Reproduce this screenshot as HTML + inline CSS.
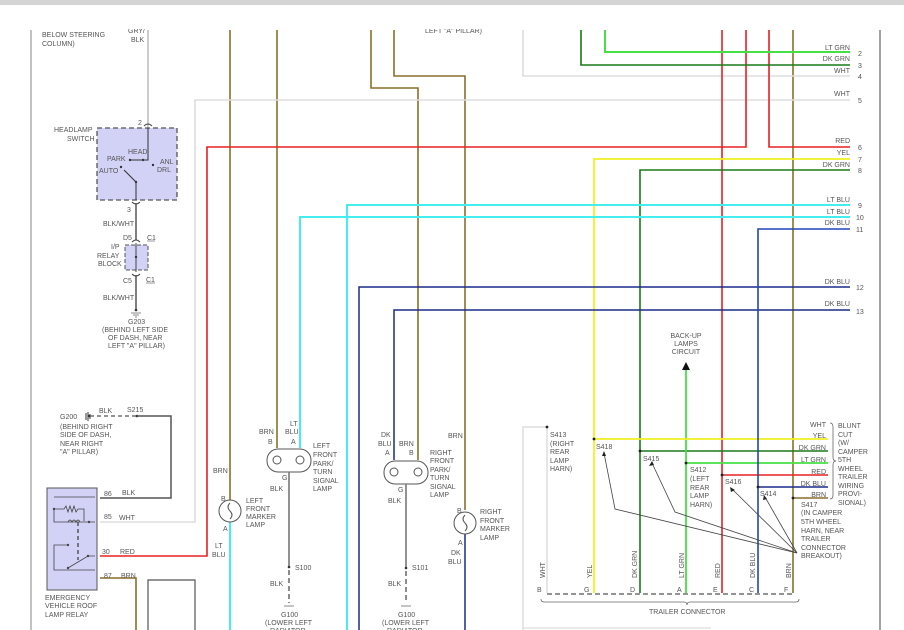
<!DOCTYPE html>
<html><head><meta charset="utf-8"><style>
html,body{margin:0;padding:0;background:#fff;}
svg{display:block;}
text{font-family:"Liberation Sans",sans-serif;font-size:7px;fill:#555;}
</style></head><body>
<svg width="904" height="630" viewBox="0 0 904 630" xmlns="http://www.w3.org/2000/svg">
<!-- frame lines -->
<line x1="31" y1="30" x2="31" y2="630" stroke="#999" stroke-width="1.2"/>
<line x1="880" y1="30" x2="880" y2="630" stroke="#666" stroke-width="1.2"/>
<text x="42" y="37">BELOW STEERING</text><text x="42" y="46">COLUMN)</text>
<text x="128" y="33">GRY/</text><text x="131" y="42">BLK</text>
<text x="425" y="33">LEFT "A" PILLAR)</text>
<rect x="100" y="5" width="780" height="24" fill="#fff"/>
<rect x="0" y="0" width="904" height="5" fill="#d4d4d4"/>

<!-- GRY/BLK to headlamp switch -->
<line x1="148" y1="30" x2="148" y2="128" stroke="#bbb" stroke-width="1.5"/>
<rect x="97" y="128" width="80" height="72" fill="#d2d2f7" stroke="#555" stroke-width="1.3" stroke-dasharray="5,3"/>
<text x="54" y="132">HEADLAMP</text><text x="67" y="141">SWITCH</text>
<text x="138" y="125">2</text>
<path d="M144,126 q4,-4 8,0" fill="none" stroke="#444"/>
<polyline points="148,128 148,160 130,160" fill="none" stroke="#333" stroke-width="1"/>
<circle cx="130" cy="160" r="1.2" fill="#333"/><circle cx="143" cy="160" r="1.2" fill="#333"/>
<text x="128" y="154">HEAD</text><text x="107" y="161">PARK</text>
<text x="160" y="164">ANL</text><text x="157" y="172">DRL</text>
<text x="99" y="173">AUTO</text>
<circle cx="153" cy="165" r="1.2" fill="#333"/>
<circle cx="121" cy="167" r="1.2" fill="#333"/>
<line x1="124" y1="170" x2="136" y2="182" stroke="#333"/><circle cx="136" cy="182" r="1.2" fill="#333"/>
<line x1="136" y1="182" x2="136" y2="200" stroke="#333"/>
<path d="M132,202 q4,4 8,0" fill="none" stroke="#444"/>
<text x="127" y="212">3</text>
<line x1="136" y1="203" x2="136" y2="240" stroke="#555" stroke-width="1.5"/>
<text x="103" y="226">BLK/WHT</text>
<text x="123" y="240">D5</text><text x="147" y="240">C1</text>
<line x1="147" y1="241" x2="155" y2="241" stroke="#555" stroke-width=".6"/>
<rect x="125" y="245" width="23" height="25" fill="#d2d2f7" stroke="#555" stroke-dasharray="4,2"/>
<path d="M132,242 q4,-4 8,0" fill="none" stroke="#444"/>
<line x1="136" y1="243" x2="136" y2="272" stroke="#444"/><circle cx="136" cy="257" r="1.2" fill="#333"/>
<text x="111" y="249">I/P</text><text x="97" y="258">RELAY</text><text x="98" y="266">BLOCK</text>
<path d="M132,274 q4,4 8,0" fill="none" stroke="#444"/>
<text x="123" y="283">C5</text><text x="146" y="282">C1</text>
<line x1="146" y1="283" x2="155" y2="283" stroke="#555" stroke-width=".6"/>
<line x1="136" y1="275" x2="136" y2="310" stroke="#555" stroke-width="1.5"/>
<text x="103" y="300">BLK/WHT</text>
<circle cx="136" cy="310" r="1.3" fill="#333"/>
<line x1="131" y1="313" x2="141" y2="313" stroke="#888"/><line x1="133" y1="315" x2="139" y2="315" stroke="#888"/><line x1="135" y1="317" x2="137" y2="317" stroke="#888"/>
<text x="128" y="324">G203</text>
<text x="102" y="332">(BEHIND LEFT SIDE</text><text x="108" y="340">OF DASH, NEAR</text><text x="108" y="348">LEFT "A" PILLAR)</text>

<!-- brown verticals -->
<g stroke="#8b6f2a" stroke-width="1.6" fill="none">
<line x1="230" y1="30" x2="230" y2="500"/>
<line x1="277" y1="30" x2="277" y2="448"/>
<polyline points="371,30 371,88 418,88 418,460"/>
<polyline points="394,30 394,76 465,76 465,510"/>
<line x1="793" y1="30" x2="793" y2="593"/>
<polyline points="793,498 828,498"/>
<polyline points="100,578 136,578 136,630"/>
</g>
<!-- white/gray -->
<g stroke="#ddd" stroke-width="1.6" fill="none">
<polyline points="850,100 195,100 195,522 100,522"/>
<polyline points="850,76 523,76 523,30"/>
</g>
<!-- red -->
<g stroke="#e82020" stroke-width="1.6" fill="none">
<polyline points="746,30 746,147 207,147 207,556 100,556"/>
<polyline points="769,30 769,147 850,147"/>
<line x1="722" y1="30" x2="722" y2="593"/>
<line x1="722" y1="475" x2="828" y2="475"/>
</g>
<!-- greens -->
<polyline points="605,30 605,52 850,52" fill="none" stroke="#44e044" stroke-width="2"/>
<polyline points="581,30 581,65 850,65" fill="none" stroke="#1a7a1a" stroke-width="1.6"/>
<polyline points="850,170 640,170 640,593" fill="none" stroke="#1a7a1a" stroke-width="1.6"/>
<line x1="640" y1="451" x2="828" y2="451" stroke="#1a7a1a" stroke-width="1.6"/>
<line x1="686" y1="370" x2="686" y2="593" stroke="#44e044" stroke-width="1.8"/>
<line x1="686" y1="463" x2="828" y2="463" stroke="#44e044" stroke-width="1.8"/>
<!-- yellow -->
<polyline points="850,159 594,159 594,593" fill="none" stroke="#f0f020" stroke-width="1.8"/>
<line x1="594" y1="439" x2="828" y2="439" stroke="#f0f020" stroke-width="1.8"/>
<!-- lt blue -->
<polyline points="850,205 347,205 347,630" fill="none" stroke="#44eeee" stroke-width="2"/>
<polyline points="850,217 300,217 300,448" fill="none" stroke="#44eeee" stroke-width="2"/>
<line x1="230" y1="522" x2="230" y2="630" stroke="#44eeee" stroke-width="2"/>
<!-- dk blue -->
<g stroke="#1a2a88" stroke-width="1.5" fill="none">
<polyline points="850,287 359,287 359,630"/>
<polyline points="850,310 394,310 394,460"/>
<line x1="465" y1="534" x2="465" y2="630"/>
</g>
<polyline points="850,229 758,229 758,593" fill="none" stroke="#2244bb" stroke-width="1.6"/>
<line x1="758" y1="487" x2="828" y2="487" stroke="#1a2a88" stroke-width="1.6"/>

<!-- right labels -->
<g text-anchor="end">
<text x="850" y="50">LT GRN</text><text x="850" y="61">DK GRN</text><text x="850" y="73">WHT</text>
<text x="850" y="96">WHT</text><text x="850" y="143">RED</text><text x="850" y="155">YEL</text>
<text x="850" y="167">DK GRN</text><text x="850" y="202">LT BLU</text><text x="850" y="214">LT BLU</text>
<text x="850" y="225">DK BLU</text><text x="850" y="284">DK BLU</text><text x="850" y="306">DK BLU</text>
</g>
<g><text x="858" y="56">2</text><text x="858" y="68">3</text><text x="858" y="79">4</text><text x="858" y="103">5</text>
<text x="858" y="150">6</text><text x="858" y="162">7</text><text x="858" y="173">8</text>
<text x="858" y="208">9</text><text x="856" y="220">10</text><text x="856" y="232">11</text>
<text x="856" y="290">12</text><text x="856" y="314">13</text></g>

<!-- backup lamps -->
<g text-anchor="middle"><text x="686" y="338">BACK-UP</text><text x="686" y="346">LAMPS</text><text x="686" y="354">CIRCUIT</text></g>
<polygon points="682,370 690,370 686,362" fill="#111"/>

<!-- G200/S215 -->
<text x="60" y="419">G200</text>
<line x1="86" y1="413" x2="86" y2="420" stroke="#333"/><line x1="88" y1="412" x2="88" y2="421" stroke="#333"/><line x1="90" y1="414" x2="90" y2="419" stroke="#333"/>
<circle cx="89" cy="416" r="1.2" fill="#333"/>
<line x1="90" y1="416" x2="137" y2="416" stroke="#555" stroke-width="1.3" stroke-dasharray="4,3"/>
<text x="99" y="413">BLK</text><text x="127" y="412">S215</text>
<circle cx="137" cy="416" r="1.3" fill="#333"/>
<polyline points="137,416 171,416 171,498 100,498" fill="none" stroke="#555" stroke-width="1.5"/>
<text x="60" y="429">(BEHIND RIGHT</text><text x="60" y="437">SIDE OF DASH,</text><text x="60" y="446">NEAR RIGHT</text><text x="60" y="454">"A" PILLAR)</text>
<!-- relay -->
<rect x="47" y="488" width="50" height="102" fill="#d2d2f7" stroke="#555"/>
<g stroke="#444" fill="none" stroke-width=".8">
<polyline points="54,497 95,497"/><polyline points="54,509 54,522 95,522"/>
<path d="M54,509 h10 l2,-3 2,6 2,-6 2,6 2,-6 2,6 2,-3 h6 v12"/>
<path d="M68,522 q2,-4 4,0 q2,-4 4,0 q2,-4 4,0"/>
<line x1="78" y1="522" x2="78" y2="560" stroke-dasharray="4,3" stroke-width="1.3"/>
<polyline points="68,545 54,545 54,570 95,570"/>
<polyline points="68,568 88,556 95,556"/>
</g>
<g fill="#444"><circle cx="54" cy="509" r="1.2"/><circle cx="68" cy="545" r="1.2"/><circle cx="68" cy="568" r="1.2"/><circle cx="88" cy="556" r="1.2"/><circle cx="89" cy="522" r="1.2"/></g>
<text x="104" y="496">86</text><text x="122" y="495">BLK</text>
<text x="104" y="519">85</text><text x="119" y="520">WHT</text>
<text x="102" y="554">30</text><text x="120" y="554">RED</text>
<text x="104" y="578">87</text><text x="121" y="578">BRN</text>
<text x="45" y="600">EMERGENCY</text><text x="45" y="608">VEHICLE ROOF</text><text x="45" y="617">LAMP RELAY</text>
<polyline points="148,630 148,580 195,580 195,630" fill="none" stroke="#555" stroke-width="1.2"/>

<!-- left marker lamp -->
<text x="213" y="473">BRN</text>
<circle cx="230" cy="511" r="11" fill="#fff" stroke="#555"/>
<path d="M230,503 q-4,4 0,8 q4,4 0,8" fill="none" stroke="#555"/>
<text x="221" y="501">B</text><text x="223" y="531">A</text>
<text x="246" y="503">LEFT</text><text x="246" y="511">FRONT</text><text x="246" y="519">MARKER</text><text x="246" y="527">LAMP</text>
<text x="215" y="548">LT</text><text x="212" y="557">BLU</text>
<!-- left park lamp -->
<rect x="267" y="449" width="44" height="23" rx="11" fill="#fff" stroke="#555"/>
<circle cx="277" cy="460" r="4" fill="none" stroke="#555"/><circle cx="300" cy="460" r="4" fill="none" stroke="#555"/>
<text x="259" y="434">BRN</text><text x="290" y="426">LT</text><text x="285" y="434">BLU</text>
<text x="268" y="444">B</text><text x="291" y="444">A</text>
<text x="313" y="448">LEFT</text><text x="313" y="457">FRONT</text><text x="313" y="466">PARK/</text><text x="313" y="474">TURN</text><text x="313" y="483">SIGNAL</text><text x="313" y="491">LAMP</text>
<text x="282" y="480">G</text><text x="270" y="491">BLK</text>
<line x1="289" y1="472" x2="289" y2="567" stroke="#777" stroke-width="1.6"/>
<circle cx="289" cy="567" r="1.3" fill="#333"/><text x="295" y="570">S100</text>
<line x1="289" y1="570" x2="289" y2="603" stroke="#666" stroke-width="1.5" stroke-dasharray="5,3"/>
<text x="270" y="586">BLK</text>
<line x1="284" y1="606" x2="294" y2="606" stroke="#888"/>
<text x="281" y="617">G100</text><text x="265" y="625">(LOWER LEFT</text><text x="270" y="633">RADIATOR</text>
<!-- right park lamp -->
<rect x="384" y="461" width="44" height="23" rx="11" fill="#fff" stroke="#555"/>
<circle cx="394" cy="472" r="4" fill="none" stroke="#555"/><circle cx="418" cy="472" r="4" fill="none" stroke="#555"/>
<text x="381" y="437">DK</text><text x="378" y="446">BLU</text><text x="399" y="446">BRN</text>
<text x="385" y="455">A</text><text x="409" y="455">B</text>
<text x="430" y="455">RIGHT</text><text x="430" y="463">FRONT</text><text x="430" y="472">PARK/</text><text x="430" y="480">TURN</text><text x="430" y="489">SIGNAL</text><text x="430" y="497">LAMP</text>
<text x="398" y="492">G</text><text x="388" y="503">BLK</text>
<line x1="406" y1="484" x2="406" y2="568" stroke="#777" stroke-width="1.6"/>
<circle cx="406" cy="568" r="1.3" fill="#333"/><text x="412" y="570">S101</text>
<line x1="406" y1="571" x2="406" y2="603" stroke="#666" stroke-width="1.5" stroke-dasharray="5,3"/>
<text x="388" y="586">BLK</text>
<line x1="401" y1="606" x2="411" y2="606" stroke="#888"/>
<text x="398" y="617">G100</text><text x="382" y="625">(LOWER LEFT</text><text x="387" y="633">RADIATOR</text>
<!-- right marker -->
<text x="448" y="438">BRN</text>
<circle cx="465" cy="523" r="11" fill="#fff" stroke="#555"/>
<path d="M465,515 q-4,4 0,8 q4,4 0,8" fill="none" stroke="#555"/>
<text x="457" y="513">B</text><text x="458" y="545">A</text>
<text x="480" y="514">RIGHT</text><text x="480" y="523">FRONT</text><text x="480" y="531">MARKER</text><text x="480" y="540">LAMP</text>
<text x="451" y="555">DK</text><text x="448" y="564">BLU</text>

<!-- trailer box -->
<polyline points="547,427 523,427 523,630" fill="none" stroke="#ddd" stroke-width="1.5"/>
<line x1="547" y1="427" x2="547" y2="593" stroke="#ddd" stroke-width="1.5"/>
<g fill="#222"><circle cx="547" cy="427" r="1.4"/><circle cx="594" cy="439" r="1.4"/><circle cx="640" cy="451" r="1.4"/><circle cx="686" cy="463" r="1.4"/><circle cx="722" cy="475" r="1.4"/><circle cx="758" cy="487" r="1.4"/><circle cx="793" cy="498" r="1.4"/></g>
<text x="550" y="437">S413</text><text x="550" y="446">(RIGHT</text><text x="550" y="454">REAR</text><text x="550" y="463">LAMP</text><text x="550" y="471">HARN)</text>
<text x="596" y="449">S418</text><text x="643" y="461">S415</text>
<text x="690" y="472">S412</text><text x="690" y="481">(LEFT</text><text x="690" y="490">REAR</text><text x="690" y="498">LAMP</text><text x="690" y="507">HARN)</text>
<text x="725" y="484">S416</text><text x="760" y="496">S414</text>
<text x="801" y="507">S417</text><text x="801" y="515">(IN CAMPER</text><text x="801" y="524">5TH WHEEL</text><text x="801" y="533">HARN, NEAR</text><text x="801" y="541">TRAILER</text><text x="801" y="550">CONNECTOR</text><text x="801" y="558">BREAKOUT)</text>
<g text-anchor="end"><text x="826" y="427">WHT</text><text x="826" y="438">YEL</text><text x="826" y="450">DK GRN</text><text x="826" y="462">LT GRN</text><text x="826" y="474">RED</text><text x="826" y="486">DK BLU</text><text x="826" y="497">BRN</text></g>
<path d="M830,423 q3,0 3,4 v30 q0,4 3,4 q-3,0 -3,4 v30 q0,4 -3,4" fill="none" stroke="#666" stroke-width=".8"/>
<text x="838" y="428">BLUNT</text><text x="838" y="437">CUT</text><text x="838" y="445">(W/</text><text x="838" y="454">CAMPER</text><text x="838" y="462">5TH</text><text x="838" y="471">WHEEL</text><text x="838" y="479">TRAILER</text><text x="838" y="488">WIRING</text><text x="838" y="496">PROVI-</text><text x="838" y="505">SIONAL)</text>
<!-- arrows -->
<g stroke="#444" stroke-width=".8" fill="none">
<polyline points="604,453 615,509 797,553"/><polyline points="652,463 675,512 797,553"/>
<line x1="731" y1="488" x2="797" y2="553"/><line x1="765" y1="497" x2="797" y2="553"/>
</g>
<g fill="#222"><polygon points="604,451 602,456 606,456"/><polygon points="652,461 649,466 654,465"/><polygon points="730,487 731,492 735,490"/><polygon points="764,495 763,500 767,499"/></g>
<!-- vertical labels -->
<g transform="rotate(-90)">
<text x="-578" y="545">WHT</text><text x="-578" y="592">YEL</text><text x="-578" y="637">DK GRN</text><text x="-578" y="684">LT GRN</text><text x="-578" y="720">RED</text><text x="-578" y="755">DK BLU</text><text x="-578" y="791">BRN</text>
</g>
<g><text x="537" y="592">B</text><text x="584" y="592">G</text><text x="630" y="592">D</text><text x="677" y="592">A</text><text x="713" y="592">E</text><text x="749" y="592">C</text><text x="784" y="592">F</text></g>
<line x1="547" y1="594" x2="793" y2="594" stroke="#555" stroke-width="1.3" stroke-dasharray="5,3"/>
<path d="M541,599 q0,3 3,3 h140 q3,0 3,3 q0,-3 3,-3 h106 q3,0 3,-3" fill="none" stroke="#666" stroke-width=".8"/>
<text x="649" y="614">TRAILER CONNECTOR</text>
<line x1="523" y1="628" x2="711" y2="628" stroke="#ddd" stroke-width="1.3"/>
</svg>
</body></html>
